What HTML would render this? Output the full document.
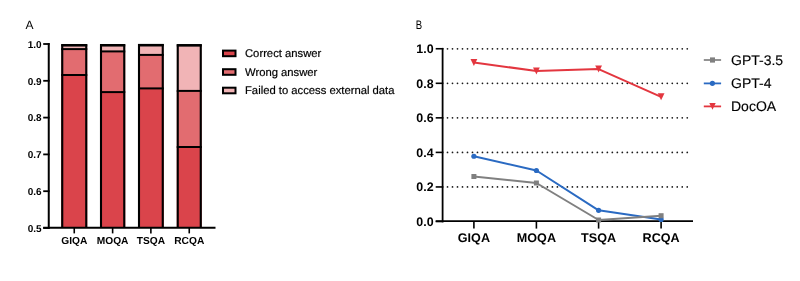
<!DOCTYPE html>
<html><head><meta charset="utf-8"><style>
html,body{margin:0;padding:0;background:#fff;width:800px;height:281px;overflow:hidden}
svg{display:block;font-family:"Liberation Sans", sans-serif;will-change:transform;text-rendering:geometricPrecision}
</style></head><body>
<svg width="800" height="281" viewBox="0 0 800 281" font-family='"Liberation Sans", sans-serif'>
<text x="25.5" y="29" font-size="12" fill="#000">A</text>
<line x1="48.75" y1="43.1" x2="48.75" y2="228.7" stroke="#000" stroke-width="2"/>
<line x1="43.2" y1="44" x2="49.6" y2="44" stroke="#000" stroke-width="1.8"/>
<text x="41.6" y="47.70" font-size="10" font-weight="bold" text-anchor="end">1.0</text>
<line x1="43.2" y1="80.8" x2="49.6" y2="80.8" stroke="#000" stroke-width="1.8"/>
<text x="41.6" y="84.50" font-size="10" font-weight="bold" text-anchor="end">0.9</text>
<line x1="43.2" y1="117.6" x2="49.6" y2="117.6" stroke="#000" stroke-width="1.8"/>
<text x="41.6" y="121.30" font-size="10" font-weight="bold" text-anchor="end">0.8</text>
<line x1="43.2" y1="154.4" x2="49.6" y2="154.4" stroke="#000" stroke-width="1.8"/>
<text x="41.6" y="158.10" font-size="10" font-weight="bold" text-anchor="end">0.7</text>
<line x1="43.2" y1="191.2" x2="49.6" y2="191.2" stroke="#000" stroke-width="1.8"/>
<text x="41.6" y="194.90" font-size="10" font-weight="bold" text-anchor="end">0.6</text>
<line x1="43.2" y1="228" x2="49.6" y2="228" stroke="#000" stroke-width="1.8"/>
<text x="41.6" y="231.70" font-size="10" font-weight="bold" text-anchor="end">0.5</text>
<rect x="61.25" y="45.2" width="26.0" height="3.8999999999999986" fill="#F1B4B6"/>
<rect x="61.25" y="49.1" width="26.0" height="25.9" fill="#E26C70"/>
<rect x="61.25" y="75.0" width="26.0" height="152.75" fill="#DA444B"/>
<line x1="61.25" y1="49.1" x2="87.25" y2="49.1" stroke="#000" stroke-width="2"/>
<line x1="61.25" y1="75.0" x2="87.25" y2="75.0" stroke="#000" stroke-width="2"/>
<path d="M62.25 227.75 V45.2 H86.25 V227.75" fill="none" stroke="#000" stroke-width="2.1"/>
<path d="M61.25 45.2 H87.25" stroke="#000" stroke-width="2.4"/>
<line x1="74.25" y1="227.75" x2="74.25" y2="233.4" stroke="#000" stroke-width="1.6"/>
<text x="74.25" y="244.1" font-size="10.2" font-weight="bold" text-anchor="middle">GIQA</text>
<rect x="100.0" y="45.2" width="25.25" height="6.199999999999996" fill="#F1B4B6"/>
<rect x="100.0" y="51.4" width="25.25" height="40.699999999999996" fill="#E26C70"/>
<rect x="100.0" y="92.1" width="25.25" height="135.65" fill="#DA444B"/>
<line x1="100.0" y1="51.4" x2="125.25" y2="51.4" stroke="#000" stroke-width="2"/>
<line x1="100.0" y1="92.1" x2="125.25" y2="92.1" stroke="#000" stroke-width="2"/>
<path d="M101.0 227.75 V45.2 H124.25 V227.75" fill="none" stroke="#000" stroke-width="2.1"/>
<path d="M100.0 45.2 H125.25" stroke="#000" stroke-width="2.4"/>
<line x1="112.625" y1="227.75" x2="112.625" y2="233.4" stroke="#000" stroke-width="1.6"/>
<text x="112.625" y="244.1" font-size="10.2" font-weight="bold" text-anchor="middle">MOQA</text>
<rect x="138.0" y="45.1" width="25.75" height="9.799999999999997" fill="#F1B4B6"/>
<rect x="138.0" y="54.9" width="25.75" height="33.50000000000001" fill="#E26C70"/>
<rect x="138.0" y="88.4" width="25.75" height="139.35" fill="#DA444B"/>
<line x1="138.0" y1="54.9" x2="163.75" y2="54.9" stroke="#000" stroke-width="2"/>
<line x1="138.0" y1="88.4" x2="163.75" y2="88.4" stroke="#000" stroke-width="2"/>
<path d="M139.0 227.75 V45.1 H162.75 V227.75" fill="none" stroke="#000" stroke-width="2.1"/>
<path d="M138.0 45.1 H163.75" stroke="#000" stroke-width="2.4"/>
<line x1="150.875" y1="227.75" x2="150.875" y2="233.4" stroke="#000" stroke-width="1.6"/>
<text x="150.875" y="244.1" font-size="10.2" font-weight="bold" text-anchor="middle">TSQA</text>
<rect x="176.75" y="45.3" width="25.0" height="45.60000000000001" fill="#F1B4B6"/>
<rect x="176.75" y="90.9" width="25.0" height="56.099999999999994" fill="#E26C70"/>
<rect x="176.75" y="147.0" width="25.0" height="80.75" fill="#DA444B"/>
<line x1="176.75" y1="90.9" x2="201.75" y2="90.9" stroke="#000" stroke-width="2"/>
<line x1="176.75" y1="147.0" x2="201.75" y2="147.0" stroke="#000" stroke-width="2"/>
<path d="M177.75 227.75 V45.3 H200.75 V227.75" fill="none" stroke="#000" stroke-width="2.1"/>
<path d="M176.75 45.3 H201.75" stroke="#000" stroke-width="2.4"/>
<line x1="189.25" y1="227.75" x2="189.25" y2="233.4" stroke="#000" stroke-width="1.6"/>
<text x="189.25" y="244.1" font-size="10.2" font-weight="bold" text-anchor="middle">RCQA</text>
<line x1="43.2" y1="227.75" x2="215.5" y2="227.75" stroke="#000" stroke-width="1.8"/>
<rect x="223" y="50.60" width="12.5" height="5.6" fill="#DA444B" stroke="#000" stroke-width="2"/>
<text x="245" y="56.9" font-size="11.25" fill="#000" stroke="#000" stroke-width="0.2">Correct answer</text>
<rect x="223" y="69.20" width="12.5" height="5.6" fill="#E26C70" stroke="#000" stroke-width="2"/>
<text x="245" y="75.5" font-size="11.25" fill="#000" stroke="#000" stroke-width="0.2">Wrong answer</text>
<rect x="223" y="87.70" width="12.5" height="5.6" fill="#F1B4B6" stroke="#000" stroke-width="2"/>
<text x="245" y="94.0" font-size="11.25" fill="#000" stroke="#000" stroke-width="0.2">Failed to access external data</text>
<text transform="translate(415.8 28.75) scale(0.8 1.03)" x="0" y="0" font-size="12">B</text>
<line x1="447.5" y1="48.75" x2="689" y2="48.75" stroke="#1a1a1a" stroke-width="1.75" stroke-linecap="round" stroke-dasharray="0 4.995"/>
<line x1="447.5" y1="83.3" x2="689" y2="83.3" stroke="#1a1a1a" stroke-width="1.75" stroke-linecap="round" stroke-dasharray="0 4.995"/>
<line x1="447.5" y1="117.85" x2="689" y2="117.85" stroke="#1a1a1a" stroke-width="1.75" stroke-linecap="round" stroke-dasharray="0 4.995"/>
<line x1="447.5" y1="152.4" x2="689" y2="152.4" stroke="#1a1a1a" stroke-width="1.75" stroke-linecap="round" stroke-dasharray="0 4.995"/>
<line x1="447.5" y1="186.95" x2="689" y2="186.95" stroke="#1a1a1a" stroke-width="1.75" stroke-linecap="round" stroke-dasharray="0 4.995"/>
<line x1="442.6" y1="47.9" x2="442.6" y2="222.3" stroke="#000" stroke-width="1.8"/>
<line x1="435.7" y1="48.75" x2="443.4" y2="48.75" stroke="#000" stroke-width="1.6"/>
<text x="433.6" y="53.10" font-size="12.4" font-weight="bold" text-anchor="end">1.0</text>
<line x1="435.7" y1="83.3" x2="443.4" y2="83.3" stroke="#000" stroke-width="1.6"/>
<text x="433.6" y="87.65" font-size="12.4" font-weight="bold" text-anchor="end">0.8</text>
<line x1="435.7" y1="117.85" x2="443.4" y2="117.85" stroke="#000" stroke-width="1.6"/>
<text x="433.6" y="122.20" font-size="12.4" font-weight="bold" text-anchor="end">0.6</text>
<line x1="435.7" y1="152.4" x2="443.4" y2="152.4" stroke="#000" stroke-width="1.6"/>
<text x="433.6" y="156.75" font-size="12.4" font-weight="bold" text-anchor="end">0.4</text>
<line x1="435.7" y1="186.95" x2="443.4" y2="186.95" stroke="#000" stroke-width="1.6"/>
<text x="433.6" y="191.30" font-size="12.4" font-weight="bold" text-anchor="end">0.2</text>
<line x1="435.7" y1="221.5" x2="443.4" y2="221.5" stroke="#000" stroke-width="1.6"/>
<text x="433.6" y="225.85" font-size="12.4" font-weight="bold" text-anchor="end">0.0</text>
<line x1="435.7" y1="221.1" x2="693" y2="221.1" stroke="#000" stroke-width="1.8"/>
<line x1="473.9" y1="221.5" x2="473.9" y2="228.6" stroke="#000" stroke-width="1.6"/>
<text x="473.9" y="242.3" font-size="12.6" font-weight="bold" text-anchor="middle">GIQA</text>
<line x1="536.4" y1="221.5" x2="536.4" y2="228.6" stroke="#000" stroke-width="1.6"/>
<text x="536.4" y="242.3" font-size="12.6" font-weight="bold" text-anchor="middle">MOQA</text>
<line x1="598.6" y1="221.5" x2="598.6" y2="228.6" stroke="#000" stroke-width="1.6"/>
<text x="598.6" y="242.3" font-size="12.6" font-weight="bold" text-anchor="middle">TSQA</text>
<line x1="661.1" y1="221.5" x2="661.1" y2="228.6" stroke="#000" stroke-width="1.6"/>
<text x="661.1" y="242.3" font-size="12.6" font-weight="bold" text-anchor="middle">RCQA</text>
<polyline points="473.9,62.6 536.4,70.9 598.6,69.05 661.1,96.8" fill="none" stroke="#E3363F" stroke-width="2" stroke-linejoin="round"/>
<path d="M470.50 59.10 H477.30 L473.90 66.10 Z" fill="#E3363F"/>
<path d="M533.00 67.40 H539.80 L536.40 74.40 Z" fill="#E3363F"/>
<path d="M595.20 65.55 H602.00 L598.60 72.55 Z" fill="#E3363F"/>
<path d="M657.70 93.30 H664.50 L661.10 100.30 Z" fill="#E3363F"/>
<polyline points="473.9,156.25 536.4,170.5 598.6,210.3 661.1,219.4" fill="none" stroke="#2A6AC2" stroke-width="2" stroke-linejoin="round"/>
<circle cx="473.9" cy="156.25" r="2.6" fill="#2A6AC2"/>
<circle cx="536.4" cy="170.5" r="2.6" fill="#2A6AC2"/>
<circle cx="598.6" cy="210.3" r="2.6" fill="#2A6AC2"/>
<circle cx="661.1" cy="219.4" r="2.6" fill="#2A6AC2"/>
<polyline points="473.9,176.5 536.4,183.0 598.6,220.0 661.1,215.7" fill="none" stroke="#808080" stroke-width="2" stroke-linejoin="round"/>
<rect x="471.4" y="174.0" width="5" height="5" fill="#808080"/>
<rect x="533.9" y="180.5" width="5" height="5" fill="#808080"/>
<rect x="596.1" y="217.5" width="5" height="5" fill="#808080"/>
<rect x="658.6" y="213.2" width="5" height="5" fill="#808080"/>
<line x1="703.8" y1="60.0" x2="721.1" y2="60.0" stroke="#808080" stroke-width="1.7"/>
<rect x="710" y="57.4" width="5" height="5.2" fill="#808080"/>
<text x="731" y="64.85" font-size="14" fill="#000" stroke="#000" stroke-width="0.15">GPT-3.5</text>
<line x1="703.8" y1="83.4" x2="721.1" y2="83.4" stroke="#2A6AC2" stroke-width="1.8"/>
<circle cx="712.4" cy="83.30000000000001" r="2.6" fill="#2A6AC2"/>
<text x="731" y="87.7" font-size="14" fill="#000" stroke="#000" stroke-width="0.15">GPT-4</text>
<line x1="703.8" y1="106.4" x2="721.1" y2="106.4" stroke="#E3363F" stroke-width="1.8"/>
<path d="M709.30 103.00 H715.70 L712.50 109.80 Z" fill="#E3363F"/>
<text x="731" y="110.9" font-size="14" fill="#000" stroke="#000" stroke-width="0.15">DocOA</text>
</svg>
</body></html>
